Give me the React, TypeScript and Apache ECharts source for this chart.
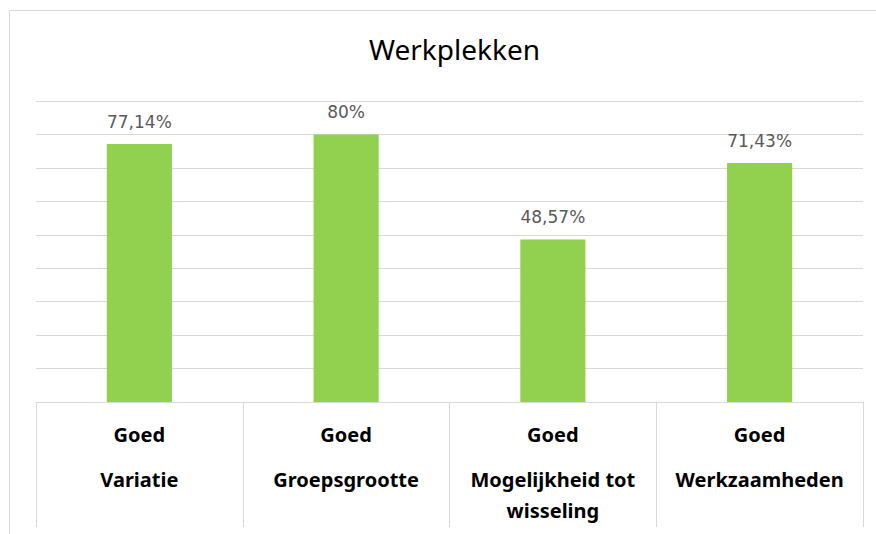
import React, { useEffect, useRef } from "react";
import * as echarts from "echarts";

const title = "Werkplekken";
const groups = ["Goed", "Goed", "Goed", "Goed"];
const categories = ["Variatie", "Groepsgrootte", "Mogelijkheid tot\nwisseling", "Werkzaamheden"];
const values = [77.14, 80, 48.57, 71.43];
const yMin = 0;
const yMax = 90;
const yInterval = 10;

export default function App() {
  const ref = useRef<HTMLDivElement>(null);
  useEffect(() => {
    if (!ref.current) return;
    const chart = echarts.init(ref.current, null, { renderer: "svg" });
    chart.setOption({
      animation: false,
      backgroundColor: "#ffffff",
      title: {
        text: title,
        left: 449.5,
        top: 30,
        textAlign: "center",
        textStyle: { fontFamily: "Noto Sans", fontSize: 28, fontWeight: "normal", color: "#000000" },
      },
      graphic: [
        {
          type: "rect",
          shape: { x: 9.5, y: 10.5, width: 900, height: 600 },
          style: { fill: "none", stroke: "#d9d9d9", lineWidth: 1 },
          silent: true,
          z: -10,
        },
      ],
      grid: { left: 36, right: 13, top: 101, bottom: 132, containLabel: false },
      xAxis: {
        type: "category",
        data: categories,
        boundaryGap: true,
        axisLine: { show: true, lineStyle: { color: "#d9d9d9", width: 1 } },
        axisTick: { show: true, length: 125, alignWithLabel: false, lineStyle: { color: "#d9d9d9", width: 1 } },
        axisLabel: {
          interval: 0,
          margin: 2,
          formatter: (v: string, i: number) =>
            `{g|${groups[i]}}\n` + v.split("\n").map((s) => `{n|${s}}`).join("\n"),
          rich: {
            g: { fontFamily: "Noto Sans", fontSize: 20, fontWeight: "bold", color: "#000000", lineHeight: 60 },
            n: { fontFamily: "Noto Sans", fontSize: 20, fontWeight: "bold", color: "#000000", lineHeight: 31 },
          },
        },
      },
      yAxis: {
        type: "value",
        min: yMin,
        max: yMax,
        interval: yInterval,
        axisLabel: { show: false },
        axisLine: { show: false },
        axisTick: { show: false },
        splitLine: { show: true, lineStyle: { color: "#d9d9d9", width: 1 } },
      },
      series: [
        {
          type: "bar",
          data: values,
          barWidth: "31.5%",
          itemStyle: { color: "#92D050" },
          label: {
            show: true,
            position: "top",
            distance: 14,
            fontFamily: "DejaVu Sans",
            fontSize: 17,
            color: "#595959",
            formatter: (p: any) => String(p.value).replace(".", ",") + "%",
          },
        },
      ],
    });
    return () => chart.dispose();
  }, []);
  return (
    <div
      ref={ref}
      style={{ position: "absolute", left: 0, top: 0, width: 876, height: 534 }}
    />
  );
}
